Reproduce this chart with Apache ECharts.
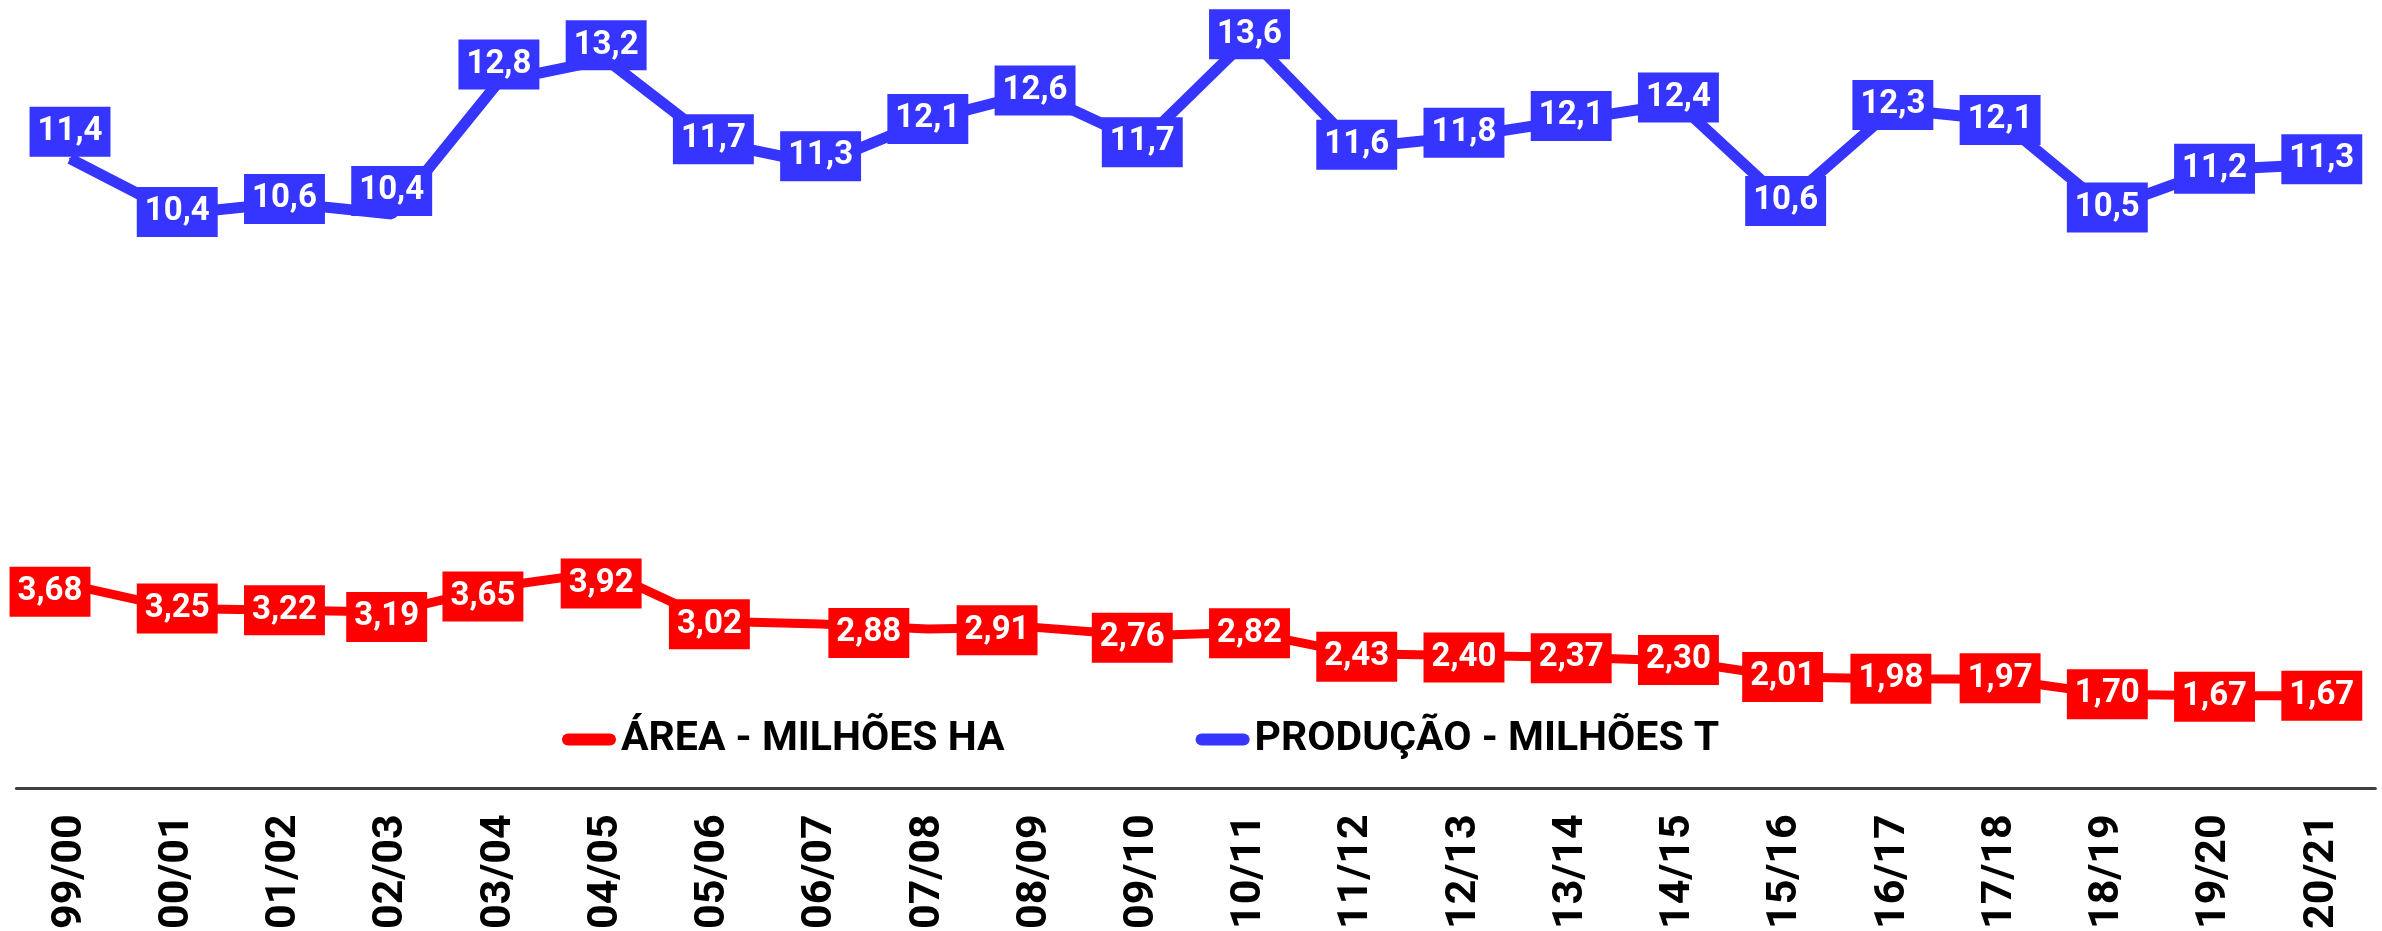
<!DOCTYPE html>
<html>
<head>
<meta charset="utf-8">
<script src="https://cdn.jsdelivr.net/npm/echarts@6/dist/echarts.min.js"></script>
<style>
  html, body { margin: 0; padding: 0; background: #ffffff; }
  #chart { width: 2382px; height: 931px; }
</style>
</head>
<body>
<div id="chart"></div>
<script>
// ---- data ----
const categories = ['99/00', '00/01', '01/02', '02/03', '03/04', '04/05', '05/06', '06/07', '07/08', '08/09', '09/10',
  '10/11', '11/12', '12/13', '13/14', '14/15', '15/16', '16/17', '17/18', '18/19', '19/20', '20/21'];
const areaValues = [3.68, 3.25, 3.22, 3.19, 3.65, 3.92, 3.02, 2.97, 2.88, 2.91, 2.76,
  2.82, 2.43, 2.40, 2.37, 2.30, 2.01, 1.98, 1.97, 1.70, 1.67, 1.67];
const productionValues = [11.4, 10.4, 10.6, 10.4, 12.8, 13.2, 11.7, 11.3, 12.1, 12.6, 11.7,
  13.6, 11.6, 11.8, 12.1, 12.4, 10.6, 12.3, 12.1, 10.5, 11.2, 11.3];
const areaName = 'ÁREA - MILHÕES HA';
const productionName = 'PRODUÇÃO - MILHÕES T';

// ---- label placement tweaks (styling, in px) ----
const areaLabelShift = [[-20, 7], [0, 0], [0, 0], [-5, 5], [-16, 10], [-5, 12], [-4, 3], null, [-59, 4], [-38, 3], [-10, 2],
  [0, 1], [0, 3], [0, 2], [0, 1], [0, -1], [-3, 0], [-2, 0], [0, -1], [0, 0], [0, 1], [0, 0]];
const prodLabelShift = [-27, -2, -4, -23, -17, -14, -3, -8, -1, -2, 0, -3, -3, -4, -4, -6, -2, -4, 0, -1, -1, -5];

const RED = '#ff0000';
const BLUE = '#3535ff';
const FONT = 'Roboto';

function boxLabel(color, decimals) {
  return {
    show: true,
    position: 'inside',
    formatter: p => Number(p.value).toFixed(decimals).replace('.', ','),
    backgroundColor: color,
    color: '#ffffff',
    fontFamily: FONT,
    fontWeight: 'bold',
    fontSize: 33,
    lineHeight: 33,
    padding: [8.5, 8, 8.5, 8]
  };
}

const areaData = areaValues.map((v, i) => {
  const s = areaLabelShift[i];
  if (s === null) return { value: v, label: { show: false } };
  return { value: v, label: { offset: s } };
});
const prodData = productionValues.map((v, i) => ({ value: v, label: { offset: [0, prodLabelShift[i]] } }));

const legendIcon = 'path://M6,0 L48,0 A6,6 0 0 1 48,12 L6,12 A6,6 0 0 1 6,0 Z';

const chart = echarts.init(document.getElementById('chart'), null, { renderer: 'canvas' });
chart.setOption({
  animation: false,
  backgroundColor: '#ffffff',
  grid: { left: 16.4, right: 6.6, top: 15.2, bottom: 143, outerBoundsMode: 'none', containLabel: false },
  legend: {
    left: 562,
    top: 719,
    padding: 0,
    itemGap: 191,
    itemWidth: 54,
    itemHeight: 12,
    selectedMode: false,
    textStyle: { fontFamily: FONT, fontWeight: 'bold', fontSize: 41, color: '#000000' },
    data: [
      { name: areaName, icon: legendIcon, itemStyle: { color: RED } },
      { name: productionName, icon: legendIcon, itemStyle: { color: BLUE } }
    ]
  },
  xAxis: {
    type: 'category',
    data: categories,
    boundaryGap: true,
    axisLine: { show: true, lineStyle: { color: '#404040', width: 3 } },
    axisTick: { show: false },
    splitLine: { show: false },
    axisLabel: {
      interval: 0,
      rotate: 90,
      align: 'left',
      margin: 141,
      fontFamily: FONT,
      fontWeight: 'bold',
      fontSize: 43,
      color: '#000000'
    }
  },
  yAxis: {
    type: 'value',
    min: 0,
    max: 14,
    show: false,
    splitLine: { show: false }
  },
  series: [
    {
      name: areaName,
      type: 'line',
      data: areaData,
      symbol: 'circle',
      symbolSize: 2,
      itemStyle: { color: RED },
      lineStyle: { color: RED, width: 9 },
      label: boxLabel(RED, 2),
      emphasis: { disabled: true },
      z: 3
    },
    {
      name: productionName,
      type: 'line',
      data: prodData,
      symbol: 'circle',
      symbolSize: 2,
      itemStyle: { color: BLUE },
      lineStyle: { color: BLUE, width: 11 },
      label: boxLabel(BLUE, 1),
      emphasis: { disabled: true },
      z: 3
    }
  ]
});
</script>
</body>
</html>
